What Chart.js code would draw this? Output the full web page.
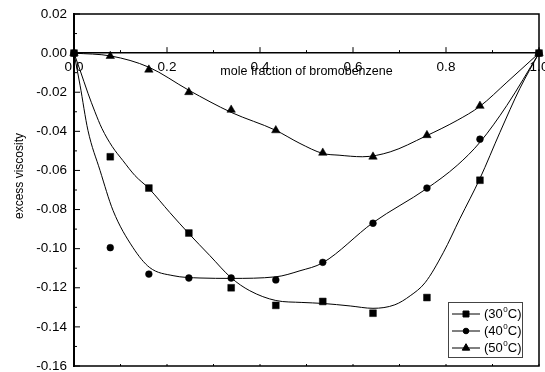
<!DOCTYPE html>
<html><head><meta charset="utf-8">
<script src="https://cdn.jsdelivr.net/npm/chart.js@4.4.0/dist/chart.umd.min.js"></script>
<style>html,body{margin:0;padding:0;background:#fff;}canvas{display:block;}</style>
</head><body>
<canvas id="c" width="545" height="372"></canvas>
<script>
// ---- data ----
const moleFraction = [0, 0.078, 0.161, 0.247, 0.338, 0.434, 0.535, 0.643, 0.759, 0.873, 1.0];
const visc30 = [0, -0.053, -0.069, -0.092, -0.120, -0.129, -0.127, -0.133, -0.125, -0.065, 0];
const visc40 = [0, -0.0995, -0.113, -0.115, -0.115, -0.116, -0.107, -0.087, -0.069, -0.044, 0];
const visc50 = [0, -0.0015, -0.0085, -0.020, -0.029, -0.0395, -0.051, -0.053, -0.042, -0.027, 0];

// fitted smooth curves
const fitX30 = [0, 0.013, 0.030, 0.045, 0.060, 0.082, 0.105, 0.131, 0.161, 0.206, 0.247, 0.292, 0.338, 0.378, 0.434, 0.490, 0.535, 0.594, 0.643, 0.690, 0.723, 0.755, 0.794, 0.830, 0.873, 0.916, 0.959, 1.0];
const fitY30 = [0, -0.0087, -0.0205, -0.0300, -0.0385, -0.0477, -0.0549, -0.0626, -0.0692, -0.0815, -0.0923, -0.1035, -0.1149, -0.1215, -0.1265, -0.1275, -0.1280, -0.1293, -0.1305, -0.1287, -0.1241, -0.1174, -0.1021, -0.0846, -0.0641, -0.0405, -0.0180, 0];
const fitX40 = [0, 0.013, 0.030, 0.056, 0.084, 0.127, 0.163, 0.213, 0.271, 0.338, 0.434, 0.486, 0.535, 0.643, 0.759, 0.824, 0.873, 0.931, 1.0];
const fitY40 = [0, -0.0164, -0.0395, -0.0600, -0.0805, -0.0995, -0.1097, -0.1138, -0.1150, -0.1152, -0.1144, -0.1113, -0.1072, -0.0867, -0.0692, -0.0574, -0.0456, -0.0267, 0];
const fitX50 = [0, 0.080, 0.161, 0.247, 0.338, 0.434, 0.486, 0.535, 0.570, 0.620, 0.680, 0.755, 0.824, 0.873, 0.931, 1.0];
const fitY50 = [0, -0.0015, -0.0072, -0.0190, -0.0303, -0.0395, -0.0462, -0.0513, -0.0522, -0.0530, -0.0505, -0.0426, -0.0344, -0.0272, -0.0149, 0];

const seriesTemps = ['30', '40', '50'];
const seriesMarkers = ['rect', 'circle', 'triangle'];
const xTickValues = [0, 0.2, 0.4, 0.6, 0.8, 1.0];
const xTickLabels = ['0.0', '0.2', '0.4', '0.6', '0.8', '1.0'];
const yTickValues = [0.02, 0, -0.02, -0.04, -0.06, -0.08, -0.10, -0.12, -0.14, -0.16];
const yTickLabels = ['0.02', '0.00', '-0.02', '-0.04', '-0.06', '-0.08', '-0.10', '-0.12', '-0.14', '-0.16'];
const xTitle = 'mole fraction of bromobenzene';
const yTitle = 'excess viscosity';

const FONT = 'Arial, "Liberation Sans", sans-serif';
const markerRadius = {rect: 4.8, circle: 3.4, triangle: 4.9};

const pts = (xs, ys) => xs.map((x, i) => ({x, y: ys[i]}));
const allVisc = [visc30, visc40, visc50];
const allFits = [[fitX30, fitY30], [fitX40, fitY40], [fitX50, fitY50]];

const datasets = [];
allFits.forEach(([fx, fy]) => {
  datasets.push({type: 'line', data: pts(fx, fy), borderColor: '#000', borderWidth: 1,
    pointRadius: 0, fill: false, cubicInterpolationMode: 'monotone', clip: false});
});
allVisc.forEach((v, i) => {
  datasets.push({type: 'scatter', data: pts(moleFraction, v), showLine: false,
    pointStyle: seriesMarkers[i], pointRadius: markerRadius[seriesMarkers[i]],
    pointBackgroundColor: '#000', pointBorderColor: '#000', pointBorderWidth: 0.5, clip: false});
});

const decorPlugin = {
  id: 'decor',
  afterDraw(chart) {
    const {ctx, chartArea: a, scales: {x, y}} = chart;
    ctx.save();
    ctx.strokeStyle = '#000';
    // frame
    ctx.lineWidth = 1.5;
    ctx.beginPath();
    ctx.moveTo(a.left, a.top); ctx.lineTo(a.right, a.top);
    ctx.lineTo(a.right, a.bottom); ctx.lineTo(a.left, a.bottom);
    ctx.stroke();
    // x ticks on zero line (pointing up) and on bottom edge
    const y0 = y.getPixelForValue(0);
    ctx.lineWidth = 1;
    for (let i = 0; i < xTickValues.length; i++) {
      const v = xTickValues[i];
      const px = x.getPixelForValue(v);
      ctx.beginPath(); ctx.moveTo(px, y0); ctx.lineTo(px, y0 - 6); ctx.stroke();
      ctx.beginPath(); ctx.moveTo(px, a.bottom); ctx.lineTo(px, a.bottom - 2); ctx.stroke();
      if (i < xTickValues.length - 1) {
        const pm = x.getPixelForValue((v + xTickValues[i + 1]) / 2);
        ctx.beginPath(); ctx.moveTo(pm, y0); ctx.lineTo(pm, y0 - 3); ctx.stroke();
        ctx.beginPath(); ctx.moveTo(pm, a.bottom); ctx.lineTo(pm, a.bottom - 2); ctx.stroke();
      }
    }
    // y ticks inward
    for (let i = 0; i < yTickValues.length; i++) {
      const v = yTickValues[i];
      const py = y.getPixelForValue(v);
      ctx.beginPath(); ctx.moveTo(a.left, py); ctx.lineTo(a.left + 6, py); ctx.stroke();
      if (i < yTickValues.length - 1) {
        const pm = y.getPixelForValue((v + yTickValues[i + 1]) / 2);
        ctx.beginPath(); ctx.moveTo(a.left, pm); ctx.lineTo(a.left + 3, pm); ctx.stroke();
      }
    }
    // axis titles
    ctx.fillStyle = '#000';
    ctx.font = '12.5px ' + FONT;
    ctx.textAlign = 'center'; ctx.textBaseline = 'alphabetic';
    ctx.fillText(xTitle, x.getPixelForValue(0.5), y0 + 22);
    ctx.save();
    ctx.translate(20, 176);
    ctx.rotate(-Math.PI / 2);
    ctx.font = '12px ' + FONT;
    ctx.textBaseline = 'middle';
    ctx.fillText(yTitle, 0, 0);
    ctx.restore();
    // legend
    const bx = a.right - 91, by = a.bottom - 64, bw = 74, bh = 55;
    ctx.fillStyle = '#fff';
    ctx.fillRect(bx, by, bw, bh);
    ctx.strokeStyle = '#444'; ctx.lineWidth = 1;
    ctx.strokeRect(bx + 0.5, by + 0.5, bw, bh);
    ctx.strokeStyle = '#000'; ctx.fillStyle = '#000';
    seriesTemps.forEach((t, i) => {
      const ry = by + 12 + i * 17;
      ctx.beginPath(); ctx.moveTo(bx + 4, ry); ctx.lineTo(bx + 32, ry); ctx.stroke();
      Chart.helpers.drawPoint(ctx, {pointStyle: seriesMarkers[i], radius: markerRadius[seriesMarkers[i]] - 0.6, rotation: 0, borderWidth: 0.5}, bx + 18, ry);
      ctx.fillStyle = '#000';
      ctx.textAlign = 'left'; ctx.textBaseline = 'middle';
      ctx.font = '13px ' + FONT;
      let tx = bx + 36;
      const s1 = '(' + t;
      ctx.fillText(s1, tx, ry); tx += ctx.measureText(s1).width;
      ctx.font = '8px ' + FONT;
      ctx.fillText('0', tx + 0.5, ry - 4); tx += ctx.measureText('0').width + 0.5;
      ctx.font = '13px ' + FONT;
      ctx.fillText('C)', tx, ry);
    });
    ctx.restore();
  }
};

new Chart(document.getElementById('c'), {
  data: {datasets},
  options: {
    responsive: false, animation: false, devicePixelRatio: 1,
    layout: {padding: {top: 14, right: 6, bottom: 6, left: 0}},
    plugins: {legend: {display: false}, tooltip: {enabled: false}},
    scales: {
      x: {
        type: 'linear', position: {y: 0}, min: 0, max: 1,
        afterBuildTicks: s => { s.ticks = xTickValues.map(v => ({value: v})); },
        afterFit: s => { s.paddingLeft = 0; s.paddingRight = 0; },
        ticks: {callback: (v, i) => xTickLabels[i], color: '#000', padding: 6, maxRotation: 0, autoSkip: false,
          font: {family: FONT, size: 13.5}},
        grid: {display: false, drawTicks: false},
        border: {display: true, color: '#000', width: 1.5}
      },
      y: {
        type: 'linear', position: 'left', min: -0.16, max: 0.02,
        afterBuildTicks: s => { s.ticks = yTickValues.map(v => ({value: v})); },
        afterFit: s => { s.width = 74; s.paddingTop = 0; s.paddingBottom = 0; },
        ticks: {callback: (v, i) => yTickLabels[i], color: '#000', padding: 7, autoSkip: false,
          font: {family: FONT, size: 13.5}},
        grid: {display: false, drawTicks: false},
        border: {display: true, color: '#000', width: 2}
      }
    }
  },
  plugins: [decorPlugin]
});
</script>
</body></html>
